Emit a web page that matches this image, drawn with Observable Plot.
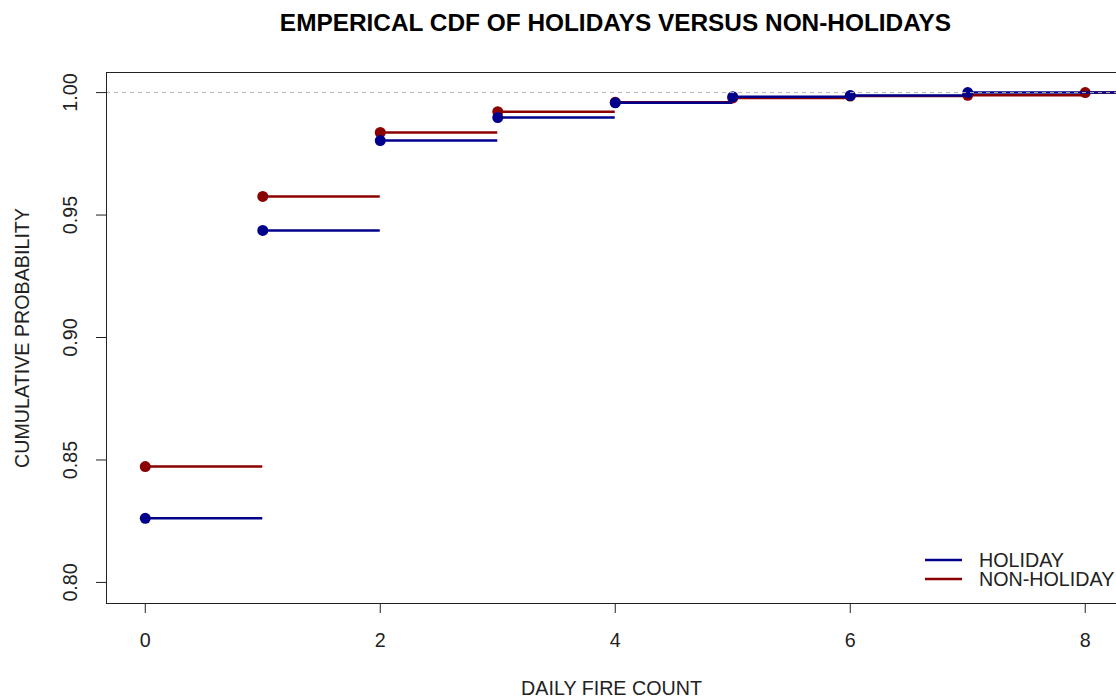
<!DOCTYPE html>
<html><head><meta charset="utf-8">
<script src="https://cdn.jsdelivr.net/npm/d3@7"></script>
<script src="https://cdn.jsdelivr.net/npm/@observablehq/plot@0.6"></script>
<style>
html,body{margin:0;padding:0;background:#fff;overflow:hidden;font-family:"Liberation Sans",Arial,sans-serif}
#wrap{position:relative;width:1116px;height:700px}
#legend{position:absolute;left:915px;top:546px}
</style></head><body><div id="wrap"></div>
<script>
const title = "EMPERICAL CDF OF HOLIDAYS VERSUS NON-HOLIDAYS";
const xLabel = "DAILY FIRE COUNT";
const yLabel = "CUMULATIVE PROBABILITY";
const xTicks = [0, 2, 4, 6, 8];
const yTicks = [0.80, 0.85, 0.90, 0.95, 1.00];
const xDomain = [-0.33, 8.266];
const yDomain = [0.7914, 1.0082];
const seriesNames = ["HOLIDAY", "NON-HOLIDAY"];
const seriesColors = ["#00008B", "#8B0000"];
const holidayCounts = [0, 1, 2, 3, 4, 5, 6, 7];
const holidayCdf = [0.8262, 0.9437, 0.9804, 0.9898, 0.9958, 0.9983, 0.9988, 1.0];
const nonHolidayCounts = [0, 1, 2, 3, 4, 5, 6, 7, 8];
const nonHolidayCdf = [0.8473, 0.9576, 0.9837, 0.9922, 0.9961, 0.9978, 0.9986, 0.9989, 1.0];

function steps(xs, ys, series) {
  return xs.map((x, i) => ({series, x1: x, x2: i < xs.length - 1 ? xs[i + 1] : xDomain[1], y: ys[i]}));
}
function pts(xs, ys, series) { return xs.map((x, i) => ({series, x, y: ys[i]})); }

const holSteps = steps(holidayCounts, holidayCdf, seriesNames[0]);
const nonSteps = steps(nonHolidayCounts, nonHolidayCdf, seriesNames[1]);
const holPts = pts(holidayCounts, holidayCdf, seriesNames[0]);
const nonPts = pts(nonHolidayCounts, nonHolidayCdf, seriesNames[1]);

const font = "'Liberation Sans', Arial, sans-serif";
const fs = 19.7;
const chart = Plot.plot({
  width: 1116, height: 700,
  marginLeft: 106, marginRight: 0, marginTop: 72, marginBottom: 97,
  style: {fontFamily: font, fontSize: fs + "px", background: "white", color: "#000"},
  x: {domain: xDomain, axis: null},
  y: {domain: yDomain, axis: null},
  color: {domain: seriesNames, range: seriesColors},
  marks: [
    Plot.ruleY(nonSteps, {y: "y", x1: "x1", x2: "x2", stroke: "series", strokeWidth: 2.5}),
    Plot.dot(nonPts, {x: "x", y: "y", r: 5.5, fill: "series", stroke: "none"}),
    Plot.ruleY(holSteps, {y: "y", x1: "x1", x2: "x2", stroke: "series", strokeWidth: 2.5}),
    Plot.dot(holPts, {x: "x", y: "y", r: 5.5, fill: "series", stroke: "none"}),
    Plot.ruleY([1], {stroke: "#b5b5b5", strokeWidth: 1, strokeDasharray: "4,4"}),
    Plot.ruleX([xDomain[0]], {stroke: "#222"}),
    Plot.ruleY([yDomain[0], yDomain[1]], {stroke: "#222"}),
    Plot.axisX({ticks: xTicks, tickSize: 10, tickFormat: () => "", label: null, stroke: "#222"}),
    Plot.axisY({ticks: yTicks, tickSize: 10, tickFormat: () => "", label: null, stroke: "#222"}),
    Plot.text(xTicks, {x: d => d, text: d => String(d), frameAnchor: "bottom", dy: 37, lineAnchor: "middle", fontSize: fs, fill: "#222"}),
    Plot.text(yTicks, {y: d => d, text: d => d.toFixed(2), frameAnchor: "left", dx: -36, rotate: -90, lineAnchor: "middle", textAnchor: "middle", fontSize: fs, fill: "#222"}),
    Plot.text([xLabel], {frameAnchor: "bottom", dy: 85, lineAnchor: "middle", textAnchor: "middle", fontSize: fs, fill: "#222"}),
    Plot.text([yLabel], {frameAnchor: "left", dx: -84, rotate: -90, lineAnchor: "middle", textAnchor: "middle", fontSize: fs, fill: "#222"}),
    Plot.text([title], {frameAnchor: "top", dx: 4, dy: -49, lineAnchor: "middle", textAnchor: "middle", fontSize: 24.4, fontWeight: "bold", fill: "#000"})
  ]
});
const wrap = document.getElementById("wrap");
wrap.appendChild(chart);

// legend
const leg = d3.select(wrap).append("svg").attr("id", "legend").attr("width", 201).attr("height", 46);
seriesNames.forEach((name, i) => {
  const y = 14 + i * 19;
  leg.append("line").attr("x1", 10).attr("x2", 47).attr("y1", y).attr("y2", y)
    .attr("stroke", seriesColors[i]).attr("stroke-width", 2.5);
  leg.append("text").attr("x", 64).attr("y", y).attr("dy", "0.35em")
    .attr("font-family", font).attr("font-size", fs).attr("fill", "#222").text(name);
});
</script></body></html>
